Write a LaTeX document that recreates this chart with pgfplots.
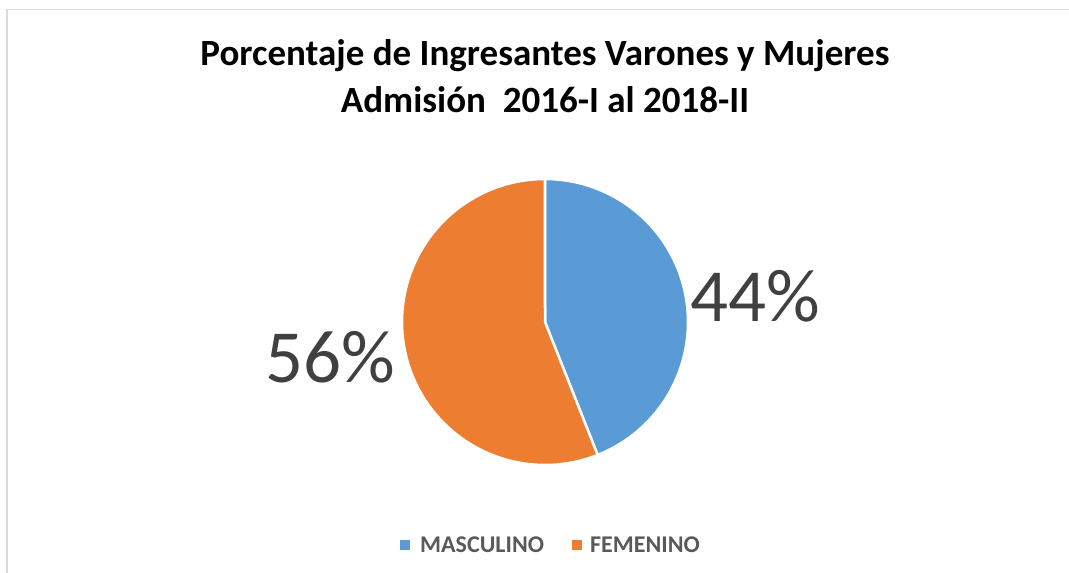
\documentclass[border=0pt]{standalone}
\usepackage{pgfplots}
\pgfplotsset{compat=1.18}
\usepackage{pgfplotstable}
\usepackage{fontspec}
\setmainfont{Carlito}
\definecolor{cBlue}{HTML}{5B9BD5}
\definecolor{cOrange}{HTML}{ED7D31}
\definecolor{cLab}{HTML}{404040}
\definecolor{cLeg}{HTML}{595959}
\definecolor{cBorder}{HTML}{D9D9D9}
\pgfplotstableread{
Sexo Pct
MASCULINO 44
FEMENINO 56
}\piedata
\pgfplotstablegetelem{0}{Pct}\of\piedata \let\pA\pgfplotsretval
\pgfplotstablegetelem{1}{Pct}\of\piedata \let\pB\pgfplotsretval
\begin{document}
\begin{tikzpicture}
\begin{axis}[
  at={(0,0)}, anchor=south west,
  width=1069bp, height=573bp, scale only axis,
  xmin=0, xmax=1069, ymin=0, ymax=573, y dir=reverse,
  hide axis, clip=false,
]
\pgfmathsetmacro{\aEnd}{\pA*3.6}
% border
\draw[cBorder, line width=1.5bp] (axis cs:7,573) -- (axis cs:7,9.5) -- (axis cs:1069,9.5);
% slices
\addplot[fill=cBlue, draw=white, line width=2.5bp, line join=round, samples=120, domain=0:\aEnd, variable=\t]
  ({545+143*sin(\t)},{322-143*cos(\t)}) -- (axis cs:545,322) -- cycle;
\addplot[fill=cOrange, draw=white, line width=2.5bp, line join=round, samples=120, domain=\aEnd:360, variable=\t]
  ({545+143*sin(\t)},{322-143*cos(\t)}) -- (axis cs:545,322) -- cycle;
% labels
\node[text=cLab, font=\fontsize{75bp}{80bp}\selectfont, anchor=center] at (axis cs:755,296) {\pA\%};
\node[text=cLab, font=\fontsize{75bp}{80bp}\selectfont, anchor=center] at (axis cs:330,357) {\pB\%};
% title
\node[font=\fontsize{37bp}{42bp}\selectfont\bfseries, anchor=center] at (axis cs:545,56) {Porcentaje de Ingresantes Varones y Mujeres};
\node[font=\fontsize{37bp}{42bp}\selectfont\bfseries, anchor=center] at (axis cs:545,100) {Admisión\ \ 2016-I al 2018-II};
% legend
\fill[cBlue] (axis cs:400,540) rectangle (axis cs:410,550);
\node[text=cLeg, font=\fontsize{24bp}{28bp}\selectfont\bfseries, anchor=west, inner sep=0pt] at (axis cs:420,545) {MASCULINO};
\fill[cOrange] (axis cs:572,540) rectangle (axis cs:582,550);
\node[text=cLeg, font=\fontsize{24bp}{28bp}\selectfont\bfseries, anchor=west, inner sep=0pt] at (axis cs:590,545) {FEMENINO};
\end{axis}
\pgfresetboundingbox
\path (0,0) rectangle (1069bp,573bp);
\end{tikzpicture}
\end{document}
